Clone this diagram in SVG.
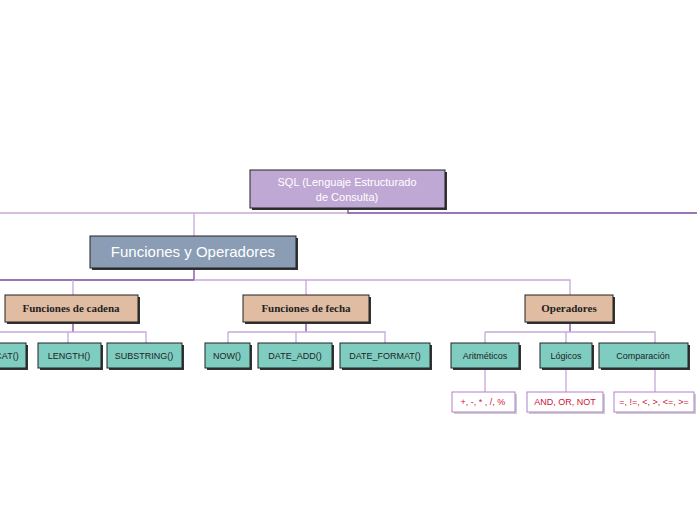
<svg xmlns="http://www.w3.org/2000/svg" width="697" height="520" viewBox="0 0 697 520">
<defs><style>
.s{fill:#333}
.b{stroke:#222;stroke-width:1}
.c{fill:none;stroke:#c9a8d9;stroke-width:1.3}
.d{fill:none;stroke:#7a4a9e;stroke-width:1.3}
text{font-family:"Liberation Sans",Arial,sans-serif;text-anchor:middle}
.l2{font-family:"Liberation Serif",serif;font-weight:bold;font-size:11px;fill:#222}
.l3{font-size:9px;fill:#222}
.l4{font-size:9px;fill:#d0103a}
</style></defs>
<rect width="697" height="520" fill="#fff"/>
<g id="connectors">
<path class="c" d="M0 213H348M194 213V236"/><path class="d" d="M348 208V213H697"/>
<path class="d" d="M194 268V280H0"/><path class="c" d="M194 280H570V295M73 280V295M306 280V295"/>
<path class="d" d="M73 322V332"/><path class="c" d="M0 332H146V343M68 332V343"/>
<path class="d" d="M306 322V332"/><path class="c" d="M228 332H385V343M228 332V343M296 332V343"/>
<path class="d" d="M570 322V332"/><path class="c" d="M485 332H655V343M485 332V343M566 332V343"/>
<path class="c" d="M485 368V392M566 368V392M655 368V392"/>
</g>
<g id="sql"><rect x="252" y="172" width="195" height="38" class="s"/><rect x="250" y="170" width="195" height="38" fill="#c0a8d4" class="b"/><text x="347" y="186" font-size="11" fill="#fff">SQL (Lenguaje Estructurado</text><text x="347" y="201" font-size="11" fill="#fff">de Consulta)</text></g>
<g id="fyo"><rect x="92" y="238" width="206" height="32" class="s"/><rect x="90" y="236" width="206" height="32" fill="#8a9db5" class="b"/><text x="193" y="257" font-size="15" fill="#fff">Funciones y Operadores</text></g>
<g id="cadena"><rect x="7" y="297" width="133" height="27" class="s"/><rect x="5" y="295" width="133" height="27" fill="#e0bca2" class="b"/><text x="71" y="312" class="l2">Funciones de cadena</text></g>
<g id="fecha"><rect x="245" y="297" width="126" height="27" class="s"/><rect x="243" y="295" width="126" height="27" fill="#e0bca2" class="b"/><text x="306" y="312" class="l2">Funciones de fecha</text></g>
<g id="operadores"><rect x="527" y="297" width="88" height="27" class="s"/><rect x="525" y="295" width="88" height="27" fill="#e0bca2" class="b"/><text x="569" y="312" class="l2">Operadores</text></g>
<g id="concat"><rect x="-30" y="345" width="58" height="25" class="s"/><rect x="-32" y="343" width="58" height="25" fill="#7ecdc0" class="b"/><text x="-3" y="359" class="l3">CONCAT()</text></g>
<g id="length"><rect x="40" y="345" width="63" height="25" class="s"/><rect x="38" y="343" width="63" height="25" fill="#7ecdc0" class="b"/><text x="69" y="359" class="l3">LENGTH()</text></g>
<g id="substring"><rect x="109" y="345" width="75" height="25" class="s"/><rect x="107" y="343" width="75" height="25" fill="#7ecdc0" class="b"/><text x="144" y="359" class="l3">SUBSTRING()</text></g>
<g id="now"><rect x="207" y="345" width="45" height="25" class="s"/><rect x="205" y="343" width="45" height="25" fill="#7ecdc0" class="b"/><text x="227" y="359" class="l3">NOW()</text></g>
<g id="dateadd"><rect x="260" y="345" width="74" height="25" class="s"/><rect x="258" y="343" width="74" height="25" fill="#7ecdc0" class="b"/><text x="295" y="359" class="l3">DATE_ADD()</text></g>
<g id="dateformat"><rect x="342" y="345" width="90" height="25" class="s"/><rect x="340" y="343" width="90" height="25" fill="#7ecdc0" class="b"/><text x="385" y="359" class="l3">DATE_FORMAT()</text></g>
<g id="arit"><rect x="453" y="345" width="68" height="25" class="s"/><rect x="451" y="343" width="68" height="25" fill="#7ecdc0" class="b"/><text x="485" y="359" class="l3">Aritméticos</text></g>
<g id="logicos"><rect x="542" y="345" width="52" height="25" class="s"/><rect x="540" y="343" width="52" height="25" fill="#7ecdc0" class="b"/><text x="566" y="359" class="l3">Lógicos</text></g>
<g id="comp"><rect x="601" y="345" width="89" height="25" class="s"/><rect x="599" y="343" width="89" height="25" fill="#7ecdc0" class="b"/><text x="643" y="359" class="l3">Comparación</text></g>
<g id="aritv"><rect x="454" y="394" width="63" height="20" fill="#ccc"/><rect x="452" y="392" width="63" height="20" fill="#fff" stroke="#b080cc"/><text x="483" y="405" class="l4">+, -, * , /, %</text></g>
<g id="logv"><rect x="529" y="394" width="76" height="20" fill="#ccc"/><rect x="527" y="392" width="76" height="20" fill="#fff" stroke="#b080cc"/><text x="565" y="405" class="l4">AND, OR, NOT</text></g>
<g id="compv"><rect x="616" y="394" width="80" height="20" fill="#ccc"/><rect x="614" y="392" width="80" height="20" fill="#fff" stroke="#b080cc"/><text x="654" y="405" class="l4">=, !=, &lt;, &gt;, &lt;=, &gt;=</text></g>
</svg>
